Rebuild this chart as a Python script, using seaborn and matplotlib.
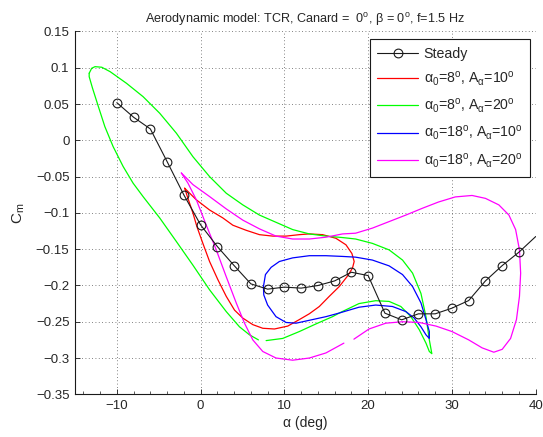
import numpy as np
import pandas as pd
import matplotlib
matplotlib.use("Agg")
import matplotlib.pyplot as plt
from matplotlib.lines import Line2D
from matplotlib.ticker import MultipleLocator
import seaborn as sns

# ---------------- data ----------------
steady_alpha = [-10, -8, -6, -4, -2, 0, 2, 4, 6, 8, 10, 12, 14, 16, 18, 20,
                22, 24, 26, 28, 30, 32, 34, 36, 38, 40]
steady_cm = [0.0519, 0.0318, 0.0157, -0.0293, -0.0752, -0.1165, -0.1464, -0.1726,
             -0.1978, -0.2051, -0.2023, -0.2037, -0.2001, -0.1937, -0.1818, -0.1864,
             -0.2382, -0.2474, -0.2391, -0.2391, -0.2313, -0.2208, -0.1937, -0.1726,
             -0.1541, -0.1326]

# alpha0 = 8, A = 10
red_alpha = [-1.90, -0.51, 1.07, 2.66, 3.85, 5.44, 7.02, 8.61, 10.2, 11.79, 12.98,
             14.56, 16.15, 17.35, 18.06, 18.33, 18.13, 17.54, 16.55, 15.36, 14.17,
             12.98, 11.79, 10.4, 8.81, 7.42, 6.23, 5.04, 4.05, 3.06, 2.06, 1.07,
             0.27, -0.44, -0.92, -1.51, -1.90]
red_cm = [-0.066, -0.082, -0.096, -0.107, -0.117, -0.124, -0.130, -0.132, -0.132,
          -0.130, -0.129, -0.130, -0.135, -0.144, -0.156, -0.167, -0.176, -0.187,
          -0.2015, -0.215, -0.229, -0.239, -0.247, -0.256, -0.260, -0.259, -0.254,
          -0.245, -0.234, -0.215, -0.192, -0.167, -0.142, -0.119, -0.100, -0.080,
          -0.066]

# alpha0 = 8, A = 20
green_alpha = [-13.3, -13.0, -12.6, -11.8, -10.8, -8.85, -6.87, -4.88, -2.89, -0.92,
               1.07, 3.06, 5.04, 7.02, 10.99, 12.98, 14.96, 16.94, 18.5, 20.5, 22.5,
               24.1, 25.3, 26.3, 26.9, 27.3, 27.6, 27.3, 26.9, 26.1, 25.1, 23.9,
               22.5, 20.9, 18.9, 16.55, 15.75, 13.77, 11.79, 9.80, 7.82, np.nan,
               6.9, 5.83, 4.64, 3.06, 1.07, -0.92, -2.89, -4.88, -6.87, -8.06,
               -9.25, -10.44, -11.43, -12.2, -12.9, -13.3, -13.3]
green_cm = [0.0924, 0.0993, 0.1015, 0.1007, 0.0946, 0.0786, 0.0602, 0.0373, 0.0098,
            -0.0225, -0.050, -0.0729, -0.089, -0.103, -0.123, -0.129, -0.132, -0.134,
            -0.136, -0.142, -0.151, -0.165, -0.183, -0.211, -0.243, -0.275, -0.294,
            -0.291, -0.2795, -0.261, -0.243, -0.229, -0.222, -0.221, -0.225, -0.238,
            -0.243, -0.253, -0.2635, -0.273, -0.276, np.nan,
            -0.275, -0.268, -0.257, -0.236, -0.206, -0.172, -0.1395, -0.107,
            -0.0775, -0.059, -0.036, -0.0087, 0.0189, 0.0464, 0.0718, 0.0877, 0.0924]

# alpha0 = 18, A = 10
blue_alpha = [7.5, 7.74, 8.42, 9.40, 10.99, 12.98, 14.96, 16.94, 18.5, 20.5, 22.5,
              24.1, 25.3, 26.3, 26.9, 27.3, 27.3, 26.9, 26.3, 25.5, 24.5, 22.9, 20.9,
              18.9, 16.55, 14.96, 12.98, 11.39, 10.2, 9.0, 8.0, 7.54, 7.5]
blue_cm = [-0.2015, -0.185, -0.175, -0.167, -0.162, -0.159, -0.159, -0.160, -0.161,
           -0.165, -0.173, -0.185, -0.2015, -0.224, -0.247, -0.2635, -0.273, -0.268,
           -0.257, -0.245, -0.236, -0.229, -0.227, -0.230, -0.238, -0.243, -0.248,
           -0.252, -0.251, -0.243, -0.227, -0.213, -0.2015]

# alpha0 = 18, A = 20
mag_alpha = [-2.30, -0.92, 1.07, 3.06, 5.04, 7.02, 9.0, 10.99, 12.98, 14.96, 16.94,
             18.5, 20.5, 22.5, 24.5, 26.5, 28.4, 30.4, 32.4, 34.0, 35.6, 36.8, 37.6,
             38.06, 38.2, 38.06, 37.7, 37.0, 36.0, 35.0, 33.6, 32.0, 30.0, 28.1,
             26.1, 24.1, 22.1, 20.1, 18.3, np.nan, 17.1, 14.96, 12.98, 10.99, 9.0,
             7.42, 6.23, 5.24, 4.25, 3.06, 1.87, 0.68, -0.51, -1.51, -2.30]
mag_cm = [-0.045, -0.061, -0.0775, -0.0945, -0.110, -0.122, -0.132, -0.136, -0.136,
          -0.1335, -0.129, -0.128, -0.121, -0.112, -0.103, -0.0935, -0.085, -0.078,
          -0.076, -0.080, -0.089, -0.103, -0.123, -0.151, -0.183, -0.215, -0.247,
          -0.273, -0.288, -0.292, -0.286, -0.275, -0.2635, -0.256, -0.251, -0.250,
          -0.252, -0.260, -0.274, np.nan, -0.2795, -0.293, -0.300, -0.303, -0.300,
          -0.291, -0.275, -0.252, -0.224, -0.188, -0.151, -0.117, -0.082, -0.059,
          -0.045]

curve_labels = [r"$\mathrm{\alpha}_0$=8$^\mathrm{o}$, A$_\mathrm{\alpha}$=10$^\mathrm{o}$",
                r"$\mathrm{\alpha}_0$=8$^\mathrm{o}$, A$_\mathrm{\alpha}$=20$^\mathrm{o}$",
                r"$\mathrm{\alpha}_0$=18$^\mathrm{o}$, A$_\mathrm{\alpha}$=10$^\mathrm{o}$",
                r"$\mathrm{\alpha}_0$=18$^\mathrm{o}$, A$_\mathrm{\alpha}$=20$^\mathrm{o}$"]
curve_colors = ["#ff0000", "#00ff00", "#0000ff", "#ff00ff"]

xtick_vals = [-10, 0, 10, 20, 30, 40]
ytick_vals = [0.15, 0.1, 0.05, 0, -0.05, -0.1, -0.15, -0.2, -0.25, -0.3, -0.35]
ytick_labels = ["0.15", "0.1", "0.05", "0", "\u22120.05", "\u22120.1", "\u22120.15",
                "\u22120.2", "\u22120.25", "\u22120.3", "\u22120.35"]
xtick_labels = ["\u221210", "0", "10", "20", "30", "40"]

title = (r"Aerodynamic model: TCR, Canard =  0$^\mathrm{o}$, "
         r"$\mathrm{\beta}$ = 0$^\mathrm{o}$, f=1.5 Hz")

# ---------------- style ----------------
sns.set_theme(style="white")
plt.rcParams["font.family"] = ["Liberation Sans", "DejaVu Sans"]
plt.rcParams["mathtext.fontset"] = "custom"
plt.rcParams["mathtext.rm"] = "Liberation Sans"
plt.rcParams["mathtext.it"] = "Liberation Sans:italic"
plt.rcParams["mathtext.bf"] = "Liberation Sans:bold"
FS_TICK = 9.5
FS_TITLE = 9.1
FS_LEG = 10.2
FS_LAB = 10

fig = plt.figure(figsize=(5.43, 4.37), dpi=100)
ax = fig.add_axes([0.138, 0.0977, 0.8486, 0.8303])


def to_frame(a, c):
    df = pd.DataFrame({"alpha": a, "cm": c})
    df["seg"] = df["alpha"].isna().cumsum()
    return df.dropna()


curves = [(red_alpha, red_cm), (green_alpha, green_cm),
          (blue_alpha, blue_cm), (mag_alpha, mag_cm)]

steady_df = pd.DataFrame({"alpha": steady_alpha, "cm": steady_cm})
sns.lineplot(data=steady_df, x="alpha", y="cm", color="k", lw=0.8, sort=False,
             estimator=None, marker="o", markersize=6.3, markerfacecolor="none",
             markeredgecolor="k", markeredgewidth=0.8,
             markevery=list(range(len(steady_alpha) - 1)), ax=ax, zorder=3)

for (a, c), col in zip(curves, curve_colors):
    sns.lineplot(data=to_frame(a, c), x="alpha", y="cm", units="seg",
                 estimator=None, sort=False, color=col, lw=0.9, ax=ax, zorder=2)

ax.set_xlim(-15, 40)
ax.set_ylim(-0.35, 0.15)
ax.set_xticks(xtick_vals)
ax.set_xticklabels(xtick_labels, fontsize=FS_TICK)
ax.set_yticks(ytick_vals)
ax.set_yticklabels(ytick_labels, fontsize=FS_TICK)
ax.xaxis.set_minor_locator(MultipleLocator(2))
ax.tick_params(axis="both", which="major", direction="in", length=3.5, width=0.6,
               color="k", pad=4, bottom=True, left=True)
ax.tick_params(axis="x", which="minor", direction="in", length=2, width=0.5,
               color="k", bottom=True)

ax.grid(True, which="major", linestyle=(0, (1, 3)), color="0.35", lw=0.6)
ax.set_axisbelow(True)
for s in ["top", "right"]:
    ax.spines[s].set_visible(False)
for s in ["left", "bottom"]:
    ax.spines[s].set_color("k")
    ax.spines[s].set_linewidth(0.8)

ax.set_xlabel("\u03b1 (deg)", fontsize=FS_LAB, labelpad=3)
ax.set_ylabel(r"C$_\mathrm{m}$", fontsize=FS_LAB + 1, labelpad=6)
ax.set_title(title, fontsize=FS_TITLE, pad=6)

handles = [Line2D([], [], color="k", lw=0.8, marker="o", markersize=6.3,
                  markerfacecolor="none", markeredgecolor="k", markeredgewidth=0.8)]
handles += [Line2D([], [], color=c, lw=0.9) for c in curve_colors]
labels = ["Steady"] + curve_labels
leg = ax.legend(handles, labels, loc="upper right", bbox_to_anchor=(0.988, 0.979),
                borderaxespad=0, fontsize=FS_LEG, frameon=True, fancybox=False,
                framealpha=1, edgecolor="k", handlelength=2.85, labelspacing=0.62,
                handletextpad=0.4, borderpad=0.55)
leg.get_frame().set_linewidth(0.8)

fig.savefig("out.png", dpi=100)
